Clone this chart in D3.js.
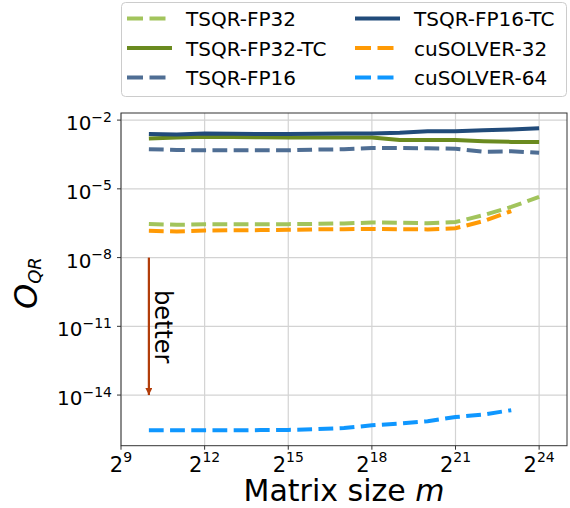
<!DOCTYPE html>
<html>
<head>
<meta charset="utf-8">
<script src="https://cdn.jsdelivr.net/npm/d3@7"></script>
<style>
  body { margin: 0; background: #fff; }
  text { font-family: "DejaVu Sans", sans-serif; fill: #000; }
</style>
</head>
<body>
<div id="chart"></div>
<script>
// matrix sizes m (2^10 .. 2^24)
var sizes = [1024, 2048, 4096, 8192, 16384, 32768, 65536, 131072, 262144,
             524288, 1048576, 2097152, 4194304, 8388608, 16777216];

var tsqrFP32   = [2.95e-7, 2.69e-7, 2.82e-7, 2.82e-7, 2.82e-7, 2.88e-7, 2.95e-7, 3.09e-7,
                  3.39e-7, 3.31e-7, 3.16e-7, 3.55e-7, 7.08e-7, 1.62e-6, 4.47e-6];
var tsqrFP32TC = [1.58e-3, 1.74e-3, 1.86e-3, 1.82e-3, 1.78e-3, 1.74e-3, 1.74e-3, 1.74e-3,
                  1.76e-3, 1.35e-3, 1.35e-3, 1.35e-3, 1.20e-3, 1.12e-3, 1.10e-3];
var tsqrFP16   = [5.37e-4, 5.01e-4, 4.79e-4, 4.79e-4, 4.79e-4, 4.79e-4, 5.13e-4, 5.37e-4,
                  6.03e-4, 6.03e-4, 5.89e-4, 5.62e-4, 4.17e-4, 4.37e-4, 3.72e-4];
var tsqrFP16TC = [2.45e-3, 2.34e-3, 2.63e-3, 2.51e-3, 2.45e-3, 2.45e-3, 2.51e-3, 2.63e-3,
                  2.63e-3, 2.79e-3, 3.24e-3, 3.24e-3, 3.63e-3, 3.89e-3, 4.37e-3];
// cuSOLVER runs stop at 2^23
var cusolver32 = [1.48e-7, 1.38e-7, 1.51e-7, 1.55e-7, 1.58e-7, 1.62e-7, 1.70e-7, 1.74e-7,
                  1.78e-7, 1.74e-7, 1.70e-7, 1.91e-7, 3.89e-7, 1.07e-6];
var cusolver64 = [2.88e-16, 2.88e-16, 2.88e-16, 2.88e-16, 2.95e-16, 3.02e-16, 3.24e-16, 3.63e-16,
                  4.79e-16, 5.75e-16, 7.24e-16, 1.10e-15, 1.41e-15, 2.19e-15];

var seriesNames = ["TSQR-FP32", "TSQR-FP32-TC", "TSQR-FP16", "TSQR-FP16-TC", "cuSOLVER-32", "cuSOLVER-64"];
var seriesValues = [tsqrFP32, tsqrFP32TC, tsqrFP16, tsqrFP16TC, cusolver32, cusolver64];
var seriesColors = ["#a2c45c", "#6a8a1f", "#4f6e94", "#214b7a", "#ff9a05", "#0f97ff"];
var seriesDashed = [true, false, true, false, true, true];

var xTickExp = [9, 12, 15, 18, 21, 24];
var yTickExp = [-2, -5, -8, -11, -14];

width = 570
height = 508
plotLeft = 121
plotRight = 567
plotTop = 113
plotBottom = 445.7
dash = "14.8,6.4"

var svg = d3.select("#chart").append("svg")
    .attr("width", width)
    .attr("height", height);

var x = d3.scaleLog().base(2)
    .domain([Math.pow(2, 9), Math.pow(2, 25)])
    .range([plotLeft, plotRight]);

var y = d3.scaleLog()
    .domain([Math.pow(10, -1.69), Math.pow(10, -16.21)])
    .range([plotTop, plotBottom]);

// grid
var grid = svg.append("g");
xTickExp.forEach(function(e) {
    grid.append("line")
        .attr("x1", x(Math.pow(2, e))).attr("x2", x(Math.pow(2, e)))
        .attr("y1", plotTop).attr("y2", plotBottom)
        .attr("stroke", "#d3d3d3").attr("stroke-width", 1.2);
});
yTickExp.forEach(function(e) {
    grid.append("line")
        .attr("x1", plotLeft).attr("x2", plotRight)
        .attr("y1", y(Math.pow(10, e))).attr("y2", y(Math.pow(10, e)))
        .attr("stroke", "#d3d3d3").attr("stroke-width", 1.2);
});

// series lines
var line = d3.line()
    .x(function(d) { return x(d[0]); })
    .y(function(d) { return y(d[1]); });

for (var i = 0; i < seriesNames.length; i++) {
    var pts = seriesValues[i].map(function(v, j) { return [sizes[j], v]; });
    svg.append("path")
        .datum(pts)
        .attr("d", line)
        .attr("fill", "none")
        .attr("stroke", seriesColors[i])
        .attr("stroke-width", 4)
        .attr("stroke-dasharray", seriesDashed[i] ? dash : null);
}

// "better" arrow
svg.append("defs").append("marker")
    .attr("id", "arrowHead")
    .attr("viewBox", "0 0 10 10")
    .attr("refX", 10).attr("refY", 5)
    .attr("markerWidth", 10).attr("markerHeight", 7)
    .attr("markerUnits", "userSpaceOnUse")
    .attr("orient", "auto")
    .append("path")
    .attr("d", "M0,0L10,5L0,10Z")
    .attr("fill", "#b23d0a");

svg.append("line")
    .attr("x1", x(sizes[0])).attr("x2", x(sizes[0]))
    .attr("y1", y(1e-8)).attr("y2", y(1e-14))
    .attr("stroke", "#b23d0a")
    .attr("stroke-width", 2.2)
    .attr("marker-end", "url(#arrowHead)");

svg.append("text")
    .text("better")
    .attr("transform", "translate(" + (x(sizes[0]) + 6) + "," + 290 + ") rotate(90)")
    .attr("font-size", 24);

// frame
svg.append("rect")
    .attr("x", plotLeft).attr("y", plotTop)
    .attr("width", plotRight - plotLeft).attr("height", plotBottom - plotTop)
    .attr("fill", "none")
    .attr("stroke", "#333")
    .attr("stroke-width", 1);

// x ticks
xTickExp.forEach(function(e) {
    var px = x(Math.pow(2, e));
    svg.append("line")
        .attr("x1", px).attr("x2", px)
        .attr("y1", plotBottom).attr("y2", plotBottom + 4)
        .attr("stroke", "#333");
    var t = svg.append("text")
        .attr("x", px)
        .attr("y", plotBottom + 26)
        .attr("text-anchor", "middle")
        .attr("font-size", 21);
    t.append("tspan").text("2");
    t.append("tspan").text(e).attr("font-size", 14).attr("dy", -10);
});

// y ticks
yTickExp.forEach(function(e) {
    var py = y(Math.pow(10, e));
    svg.append("line")
        .attr("x1", plotLeft - 4).attr("x2", plotLeft)
        .attr("y1", py).attr("y2", py)
        .attr("stroke", "#333");
    var t = svg.append("text")
        .attr("x", plotLeft - 9)
        .attr("y", py + 10)
        .attr("text-anchor", "end")
        .attr("font-size", 20);
    t.append("tspan").text("10");
    t.append("tspan").text("\u2212" + Math.abs(e)).attr("font-size", 14).attr("dy", -8.5);
});

// axis labels
svg.append("text")
    .attr("x", (plotLeft + plotRight) / 2)
    .attr("y", 501)
    .attr("text-anchor", "middle")
    .attr("font-size", 30)
    .call(function(t) {
        t.append("tspan").text("Matrix size ");
        t.append("tspan").text("m").attr("font-style", "italic");
    });

var yl = svg.append("text")
    .attr("transform", "translate(37,309) rotate(-90)")
    .attr("font-style", "italic");
yl.append("tspan").text("O").attr("font-size", 32);
yl.append("tspan").text("QR").attr("font-size", 18).attr("dy", 4);

// legend
var legend = svg.append("g");
legend.append("rect")
    .attr("x", 121.5).attr("y", 2.5)
    .attr("width", 445).attr("height", 94)
    .attr("rx", 4).attr("ry", 4)
    .attr("fill", "#fff")
    .attr("fill-opacity", 0.8)
    .attr("stroke", "#cccccc")
    .attr("stroke-width", 1);

var colX = [127, 355];
var rowY = [18.5, 48, 77.5];
for (var i = 0; i < seriesNames.length; i++) {
    var cx = colX[Math.floor(i / 3)];
    var cy = rowY[i % 3];
    legend.append("line")
        .attr("x1", cx).attr("x2", cx + 45)
        .attr("y1", cy).attr("y2", cy)
        .attr("stroke", seriesColors[i])
        .attr("stroke-width", 4)
        .attr("stroke-dasharray", seriesDashed[i] ? "16,6.5" : null);
    legend.append("text")
        .text(seriesNames[i])
        .attr("x", cx + 59)
        .attr("y", cy + 7.5)
        .attr("font-size", 20);
}
</script>
</body>
</html>
